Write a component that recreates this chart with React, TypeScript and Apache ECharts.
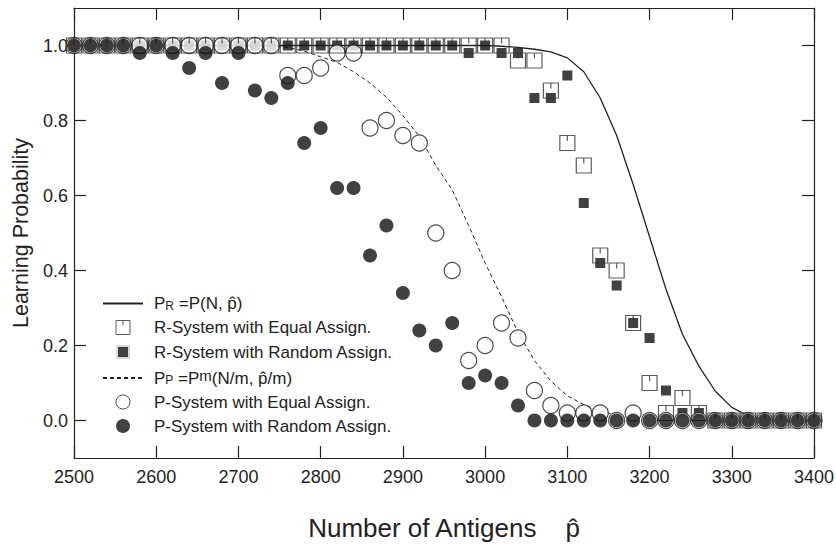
import React, { useEffect, useRef } from "react";
import * as echarts from "echarts";

const antigens = [
  2500, 2520, 2540, 2560, 2580, 2600, 2620, 2640, 2660, 2680, 2700, 2720, 2740, 2760, 2780, 2800,
  2820, 2840, 2860, 2880, 2900, 2920, 2940, 2960, 2980, 3000, 3020, 3040, 3060, 3080, 3100, 3120,
  3140, 3160, 3180, 3200, 3220, 3240, 3260, 3280, 3300, 3320, 3340, 3360, 3380, 3400,
];

// Theoretical curve P_R = P(N, p^)
const curveR = [
  1, 1, 1, 1, 1, 1, 1, 1, 1, 1, 1, 1, 1, 1, 1, 1,
  1, 1, 1, 1, 1, 1, 1, 1, 1, 1, 0.998, 0.995, 0.99, 0.983, 0.967, 0.93,
  0.86, 0.76, 0.63, 0.49, 0.35, 0.23, 0.145, 0.078, 0.035, 0.012, 0.003, 0, 0, 0,
];

// Theoretical curve P_P = P^m(N/m, p^/m)
const curveP = [
  1, 1, 1, 1, 1, 1, 1, 1, 1, 1, 1, 1, 1, 0.995, 0.985, 0.97,
  0.955, 0.93, 0.9, 0.862, 0.813, 0.758, 0.68, 0.615, 0.52, 0.42, 0.33, 0.235, 0.16, 0.105, 0.066, 0.042,
  0.025, 0.015,
];

const rEqual = [
  1, 1, 1, 1, 1, 1, 1, 1, 1, 1, 1, 1, 1, 1, 1, 1,
  1, 1, 1, 1, 1, 1, 1, 1, 1, 1, 1, 0.96, 0.96, 0.88, 0.74, 0.68,
  0.44, 0.4, 0.26, 0.1, 0.02, 0.06, 0.02, 0, 0, 0, 0, 0, 0, 0,
];

const rRandom = [
  1, 1, 1, 1, 1, 1, 1, 1, 1, 1, 1, 1, 1, 1, 1, 1,
  1, 1, 1, 1, 1, 1, 1, 1, 0.98, 1, 0.98, 0.98, 0.86, 0.86, 0.92, 0.58,
  0.42, 0.36, 0.26, 0.22, 0.08, 0.02, 0.02, 0, 0, 0, 0, 0, 0, 0,
];

const pEqual = [
  1, 1, 1, 1, 1, 1, 1, 1, 1, 1, 1, 1, 1, 0.92, 0.92, 0.94,
  0.98, 0.98, 0.78, 0.8, 0.76, 0.74, 0.5, 0.4, 0.16, 0.2, 0.26, 0.22, 0.08, 0.04, 0.02, 0.02,
  0.02, 0, 0.02, 0, 0, 0, 0, 0, 0, 0, 0, 0, 0, 0,
];

const pRandom = [
  1, 1, 1, 1, 0.98, 1, 0.98, 0.94, 0.98, 0.9, 0.98, 0.88, 0.86, 0.9, 0.74, 0.78,
  0.62, 0.62, 0.44, 0.52, 0.34, 0.24, 0.2, 0.26, 0.1, 0.12, 0.1, 0.04, 0, 0, 0, 0,
  0, 0, 0, 0, 0, 0, 0, 0, 0, 0, 0, 0, 0, 0,
];

const yTicks = [0, 0.2, 0.4, 0.6, 0.8, 1.0];

const NAME_R = "PR =P(N, p̂)";
const NAME_RE = "R-System with Equal Assign.";
const NAME_RR = "R-System with Random Assign.";
const NAME_P = "PP =Pm(N/m, p̂/m)";
const NAME_PE = "P-System with Equal Assign.";
const NAME_PR = "P-System with Random Assign.";

const FONT = "'Liberation Sans', Arial, Helvetica, sans-serif";
const INK = "#222";
const DARK = "#111";

const SQUARE_TICK = "path://M0,0 L10,0 L10,10 L0,10 Z M5,0 L5,3.6";
const SQUARE = "path://M0,0 L10,0 L10,10 L0,10 Z";

function pairs(ys: number[]) {
  return ys.map((y, i) => [antigens[i], y]);
}

export default function App() {
  const ref = useRef<HTMLDivElement>(null);

  useEffect(() => {
    if (!ref.current) return;
    const chart = echarts.init(ref.current, null, { renderer: "svg" });

    const axisLine = { show: true, onZero: false, lineStyle: { color: INK, width: 1.2 } };
    const tick = { show: true, inside: true, length: 12, lineStyle: { color: INK, width: 1.2 } };
    const hiddenSymbol = { color: "rgba(0,0,0,0)", borderWidth: 0, opacity: 0 };

    const option: any = {
      animation: false,
      backgroundColor: "#fff",
      textStyle: { fontFamily: FONT, color: INK },
      grid: { left: 74, right: 22, top: 8, bottom: 92, outerBoundsMode: "none" },
      xAxis: [
        {
          type: "value",
          min: 2500,
          max: 3400,
          interval: 100,
          position: "bottom",
          axisLine,
          axisTick: tick,
          axisLabel: {
            show: true,
            color: INK,
            fontSize: 18,
            fontFamily: FONT,
            margin: 10,
            formatter: (v: number) => String(v),
          },
          splitLine: { show: false },
          name: "Number of Antigens    p̂",
          nameLocation: "middle",
          nameGap: 57,
          nameTextStyle: { fontSize: 26, color: INK, fontFamily: FONT },
        },
        {
          type: "value",
          min: 2500,
          max: 3400,
          interval: 100,
          position: "top",
          axisLine,
          axisTick: tick,
          axisLabel: { show: false },
          splitLine: { show: false },
        },
      ],
      yAxis: [
        {
          type: "value",
          min: -0.1,
          max: 1.1,
          position: "left",
          axisLine,
          axisTick: { ...tick, customValues: yTicks },
          axisLabel: {
            show: true,
            customValues: yTicks,
            formatter: (v: number) => v.toFixed(1),
            color: INK,
            fontSize: 18,
            fontFamily: FONT,
            margin: 6,
          },
          splitLine: { show: false },
          name: "Learning Probability",
          nameLocation: "middle",
          nameRotate: 90,
          nameGap: 42,
          nameTextStyle: { fontSize: 21.5, color: INK, fontFamily: FONT },
        },
        {
          type: "value",
          min: -0.1,
          max: 1.1,
          position: "right",
          axisLine,
          axisTick: { ...tick, customValues: yTicks },
          axisLabel: { show: false, customValues: yTicks },
          splitLine: { show: false },
        },
      ],
      legend: {
        orient: "vertical",
        left: 102,
        top: 295,
        padding: 0,
        itemWidth: 40,
        itemHeight: 14,
        itemGap: 7,
        selectedMode: false,
        itemStyle: { borderWidth: 1 },
        data: [
          { name: NAME_R, itemStyle: hiddenSymbol },
          { name: NAME_RE },
          { name: NAME_RR, itemStyle: { borderColor: "#fff", borderWidth: 4 } },
          { name: NAME_P, itemStyle: hiddenSymbol },
          { name: NAME_PE },
          { name: NAME_PR },
        ],
        formatter: (name: string) => {
          if (name === NAME_R) return "{b|P}{s|R}{b| =P(N, p̂)}";
          if (name === NAME_P) return "{b|P}{s|P}{b| =P}{m|m}{b|(N/m, p̂/m)}";
          return "{b|" + name + "}";
        },
        textStyle: {
          fontFamily: FONT,
          color: INK,
          fontSize: 17,
          padding: [0, 0, 0, 6],
          rich: {
            b: { fontSize: 17, lineHeight: 20, color: INK, fontFamily: FONT },
            s: { fontSize: 12, color: INK, fontFamily: FONT, verticalAlign: "bottom", padding: [0, 0, 2, 0] },
            m: { fontSize: 15, lineHeight: 6, color: INK, fontFamily: FONT, verticalAlign: "top" },
          },
        },
      },
      series: [
        {
          name: NAME_R,
          type: "line",
          data: pairs(curveR),
          symbol: "none",
          showSymbol: false,
          lineStyle: { color: INK, width: 1.3 },
          itemStyle: { color: INK },
          z: 2,
          silent: true,
        },
        {
          name: NAME_RE,
          type: "scatter",
          data: pairs(rEqual),
          symbol: SQUARE_TICK,
          symbolSize: 15,
          symbolKeepAspect: true,
          itemStyle: { color: "rgba(255,255,255,0)", borderColor: "#333", borderWidth: 1.2 },
          z: 5,
          silent: true,
        },
        {
          name: NAME_RR,
          type: "scatter",
          data: pairs(rRandom),
          symbol: SQUARE,
          symbolSize: 10,
          symbolKeepAspect: true,
          itemStyle: { color: DARK },
          z: 3,
          silent: true,
        },
        {
          name: NAME_P,
          type: "line",
          data: pairs(curveP),
          symbol: "none",
          showSymbol: false,
          lineStyle: { color: INK, width: 1, type: [4, 3] },
          itemStyle: { color: INK },
          z: 2,
          silent: true,
        },
        {
          name: NAME_PE,
          type: "scatter",
          data: pairs(pEqual),
          symbol: "circle",
          symbolSize: 16,
          itemStyle: { color: "#fff", borderColor: INK, borderWidth: 1.2 },
          z: 4,
          silent: true,
        },
        {
          name: NAME_PR,
          type: "scatter",
          data: pairs(pRandom),
          symbol: "circle",
          symbolSize: 14,
          itemStyle: { color: DARK },
          z: 6,
          silent: true,
        },
      ],
    };

    chart.setOption(option);
    return () => chart.dispose();
  }, []);

  return (
    <div
      ref={ref}
      style={{ position: "absolute", left: 0, top: 0, width: 836, height: 550 }}
    />
  );
}
